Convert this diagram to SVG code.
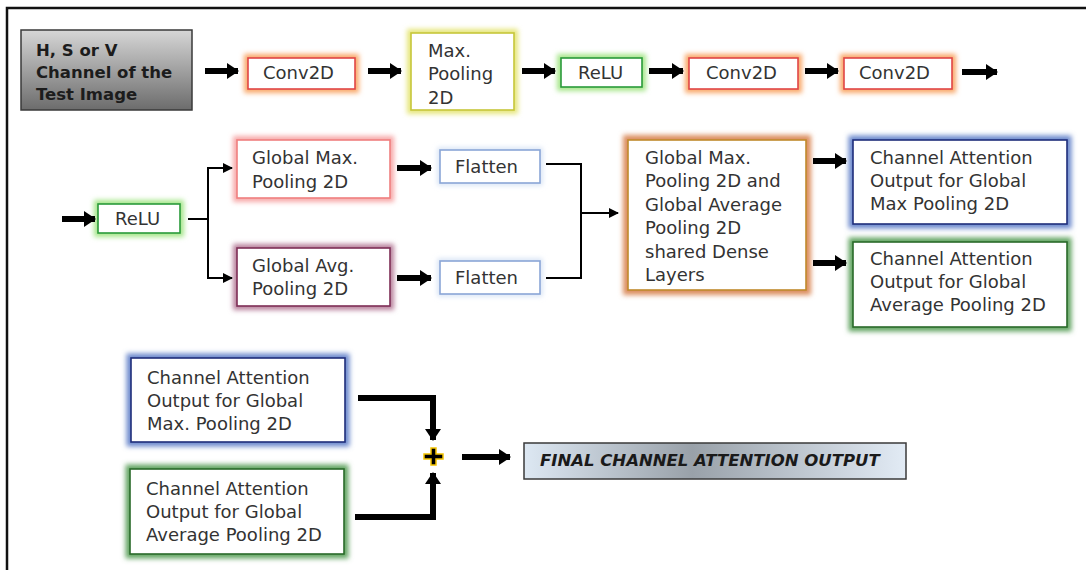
<svg xmlns="http://www.w3.org/2000/svg" width="1086" height="570" viewBox="0 0 1086 570">
<defs>
<style>
text{font-family:"DejaVu Sans","Verdana",sans-serif;font-size:18px;fill:#333;}
.b{font-weight:bold;fill:#1c1c1c;font-size:16.5px;}
.box{fill:#fff;stroke-width:1.6;}
.glow{fill:none;stroke-width:8;filter:url(#blur);}
.thick{stroke:#000;stroke-width:6;fill:none;}
.thin{stroke:#000;stroke-width:2;fill:none;}
</style>
<filter id="blur" x="-20%" y="-40%" width="140%" height="180%"><feGaussianBlur stdDeviation="2.6"/></filter>
<marker id="ah" markerUnits="userSpaceOnUse" markerWidth="12" markerHeight="16" refX="11" refY="8" orient="auto"><path d="M0,0 L12,8 L0,16 Z" fill="#000"/></marker>
<marker id="as" markerUnits="userSpaceOnUse" markerWidth="10" markerHeight="10" refX="9" refY="5" orient="auto"><path d="M0,0 L10,5 L0,10 Z" fill="#000"/></marker>
<linearGradient id="gray" x1="0" y1="0" x2="0" y2="1"><stop offset="0" stop-color="#d6d6d6"/><stop offset="1" stop-color="#6c6c6c"/></linearGradient>
<linearGradient id="fin" x1="0" y1="0" x2="1" y2="0"><stop offset="0" stop-color="#dde8f3"/><stop offset="0.44" stop-color="#99a1a9"/><stop offset="1" stop-color="#e2ebf5"/></linearGradient>
</defs>
<rect width="1086" height="570" fill="#fff"/>
<path d="M7,570 V8 H1086" fill="none" stroke="#111" stroke-width="2.5"/>

<g id="input">
<rect x="21" y="30" width="171" height="80" fill="url(#gray)" stroke="#3a3a3a" stroke-width="1.5"/>
<text class="b" x="36" y="56">H, S or V</text>
<text class="b" x="36" y="78">Channel of the</text>
<text class="b" x="36" y="100">Test Image</text>
</g>
<g id="conv1">
<rect class="glow" x="248" y="58" width="107" height="31" stroke="#f9a869"/>
<rect class="box" x="248" y="58" width="107" height="31" stroke="#e04545"/>
<text x="263" y="79">Conv2D</text>
</g>
<g id="maxpool">
<rect class="glow" x="411" y="33" width="103" height="77" stroke="#e6e67a"/>
<rect class="box" x="411" y="33" width="103" height="77" stroke="#c6c63a"/>
<text x="428" y="57">Max.</text>
<text x="428" y="80">Pooling</text>
<text x="428" y="104">2D</text>
</g>
<g id="relu1">
<rect class="glow" x="561" y="58" width="81" height="29" stroke="#a6e68a"/>
<rect class="box" x="561" y="58" width="81" height="29" stroke="#2a9a3a"/>
<text x="578" y="79">ReLU</text>
</g>
<g id="conv2">
<rect class="glow" x="689" y="58" width="109" height="31" stroke="#f9a869"/>
<rect class="box" x="689" y="58" width="109" height="31" stroke="#e04545"/>
<text x="706" y="79">Conv2D</text>
</g>
<g id="conv3">
<rect class="glow" x="844" y="58" width="108" height="31" stroke="#f9a869"/>
<rect class="box" x="844" y="58" width="108" height="31" stroke="#e04545"/>
<text x="859" y="79">Conv2D</text>
</g>

<g id="relu2">
<rect class="glow" x="98" y="204" width="82" height="29" stroke="#a6e68a"/>
<rect class="box" x="98" y="204" width="82" height="29" stroke="#2a9a3a"/>
<text x="115" y="225">ReLU</text>
</g>
<g id="gmp">
<rect class="glow" x="237" y="140" width="153" height="58" stroke="#f7a8a8"/>
<rect class="box" x="237" y="140" width="153" height="58" stroke="#ef7f7f"/>
<text x="252" y="164">Global Max.</text>
<text x="252" y="188">Pooling 2D</text>
</g>
<g id="gap">
<rect class="glow" x="237" y="248" width="153" height="58" stroke="#b8809c"/>
<rect class="box" x="237" y="248" width="153" height="58" stroke="#7e2e56"/>
<text x="252" y="272">Global Avg.</text>
<text x="252" y="295">Pooling 2D</text>
</g>
<g id="flatten1">
<rect class="glow" x="440" y="150" width="100" height="33" stroke="#d6e2f4" style="stroke-width:5"/>
<rect class="box" x="440" y="150" width="100" height="33" stroke="#8aa6d6"/>
<text x="455" y="173">Flatten</text>
</g>
<g id="flatten2">
<rect class="glow" x="440" y="261" width="100" height="33" stroke="#d6e2f4" style="stroke-width:5"/>
<rect class="box" x="440" y="261" width="100" height="33" stroke="#8aa6d6"/>
<text x="455" y="284">Flatten</text>
</g>
<g id="dense">
<rect class="glow" x="628" y="140" width="178" height="150" stroke="#dc8e5e" style="stroke-width:10"/>
<rect class="box" x="628" y="140" width="178" height="150" stroke="#c08a2c"/>
<text x="645" y="164">Global Max.</text>
<text x="645" y="187">Pooling 2D and</text>
<text x="645" y="211">Global Average</text>
<text x="645" y="234">Pooling 2D</text>
<text x="645" y="258">shared Dense</text>
<text x="645" y="281">Layers</text>
</g>
<g id="camax">
<rect class="glow" x="853" y="140" width="214" height="84" stroke="#6a88cc" style="stroke-width:9"/>
<rect class="box" x="853" y="140" width="214" height="84" stroke="#1f2d7a"/>
<text x="870" y="164">Channel Attention</text>
<text x="870" y="187">Output for Global</text>
<text x="870" y="210">Max Pooling 2D</text>
</g>
<g id="caavg">
<rect class="glow" x="853" y="242" width="214" height="85" stroke="#62a462" style="stroke-width:9"/>
<rect class="box" x="853" y="242" width="214" height="85" stroke="#2a6a2a"/>
<text x="870" y="265">Channel Attention</text>
<text x="870" y="288">Output for Global</text>
<text x="870" y="311">Average Pooling 2D</text>
</g>

<g id="camax2">
<rect class="glow" x="131" y="358" width="214" height="84" stroke="#6a88cc" style="stroke-width:9"/>
<rect class="box" x="131" y="358" width="214" height="84" stroke="#1f2d7a"/>
<text x="147" y="384">Channel Attention</text>
<text x="147" y="407">Output for Global</text>
<text x="147" y="430">Max. Pooling 2D</text>
</g>
<g id="caavg2">
<rect class="glow" x="130" y="469" width="214" height="85" stroke="#62a462" style="stroke-width:9"/>
<rect class="box" x="130" y="469" width="214" height="85" stroke="#2a6a2a"/>
<text x="146" y="495">Channel Attention</text>
<text x="146" y="518">Output for Global</text>
<text x="146" y="541">Average Pooling 2D</text>
</g>
<g id="plus">
<path d="M424,454 h7 v-6 h5 v6 h7 v5 h-7 v6 h-5 v-6 h-7 Z" fill="#000" stroke="#f2c200" stroke-width="1.5"/>
</g>
<g id="final">
<rect x="524" y="443" width="382" height="36" fill="url(#fin)" stroke="#3a3a3a" stroke-width="1.5"/>
<text x="540" y="466" style="font-weight:bold;font-style:italic;fill:#1a1a1a;font-size:16.5px">FINAL CHANNEL ATTENTION OUTPUT</text>
</g>

<g id="connectors">
<line class="thick" x1="205" y1="71" x2="238" y2="71" marker-end="url(#ah)"/>
<line class="thick" x1="368" y1="71" x2="401" y2="71" marker-end="url(#ah)"/>
<line class="thick" x1="522" y1="71" x2="555" y2="71" marker-end="url(#ah)"/>
<line class="thick" x1="649" y1="71" x2="683" y2="71" marker-end="url(#ah)"/>
<line class="thick" x1="805" y1="71" x2="838" y2="71" marker-end="url(#ah)"/>
<line class="thick" x1="962" y1="72" x2="997" y2="72" marker-end="url(#ah)"/>
<line class="thick" x1="62" y1="219" x2="95" y2="219" marker-end="url(#ah)"/>
<path class="thin" d="M188,219 H208 V168 H232" marker-end="url(#as)"/>
<path class="thin" d="M208,219 V278 H232" marker-end="url(#as)"/>
<line class="thick" x1="397" y1="168" x2="431" y2="168" marker-end="url(#ah)"/>
<line class="thick" x1="397" y1="278" x2="431" y2="278" marker-end="url(#ah)"/>
<path class="thin" d="M546,164 H581 V278 H546"/>
<line class="thin" x1="581" y1="213" x2="618" y2="213" marker-end="url(#as)"/>
<line class="thick" x1="813" y1="161" x2="846" y2="161" marker-end="url(#ah)"/>
<line class="thick" x1="813" y1="263" x2="846" y2="263" marker-end="url(#ah)"/>
<path class="thick" d="M358,398 H433 V440" marker-end="url(#ah)"/>
<path class="thick" d="M355,517 H433 V473" marker-end="url(#ah)"/>
<line class="thick" x1="462" y1="457" x2="510" y2="457" marker-end="url(#ah)"/>
</g>
</svg>
